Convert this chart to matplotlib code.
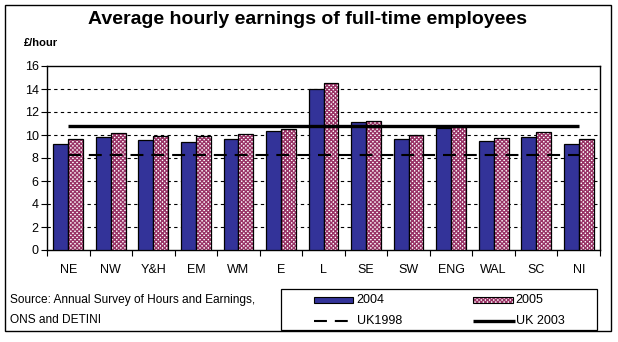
import matplotlib
matplotlib.use("Agg")
import matplotlib.pyplot as plt
from matplotlib.patches import Rectangle
from matplotlib.lines import Line2D
import numpy as np

plt.rcParams['font.family'] = ['Liberation Sans', 'DejaVu Sans']

regions = ["NE", "NW", "Y&H", "EM", "WM", "E", "L", "SE", "SW", "ENG", "WAL", "SC", "NI"]
earn_2004 = [9.2, 9.83, 9.55, 9.4, 9.65, 10.35, 13.97, 11.1, 9.62, 10.58, 9.48, 9.83, 9.2]
earn_2005 = [9.63, 10.17, 9.92, 9.92, 10.1, 10.5, 14.5, 11.2, 9.97, 10.75, 9.72, 10.26, 9.63]
uk_1998 = 8.3
uk_2003 = 10.78
y_ticks = [0, 2, 4, 6, 8, 10, 12, 14, 16]

W, H = 618, 342
fig = plt.figure(figsize=(W / 100, H / 100), dpi=100)

def px(x, y):
    return x / W, 1 - y / H

# outer frame
fig.patches.append(Rectangle(px(5, 331), 606 / W, 326 / H, transform=fig.transFigure,
                             fill=False, edgecolor='black', linewidth=1.0))

ax = fig.add_axes([47 / W, (H - 250) / H, 553 / W, 184 / H])
n = len(regions)
x = np.arange(n)
bw = 0.35
navy = '#333399'
plum = '#993366'

ax.bar(x - bw / 2, earn_2004, width=bw, color=navy, edgecolor='black', linewidth=0.9, zorder=3)
# patterned 2005 bars: hatch layer first, outline on top
ax.bar(x + bw / 2, earn_2005, width=bw, color='white', edgecolor=plum, hatch='xxxxxxxx',
       linewidth=0, zorder=3)
ax.bar(x + bw / 2, earn_2005, width=bw, fill=False, edgecolor='black', linewidth=0.9, zorder=4)

ax.plot([x[0], x[-1]], [uk_2003, uk_2003], color='black', linewidth=2.4, zorder=5,
        solid_capstyle='butt')
ax.plot([x[0], x[-1]], [uk_1998, uk_1998], color='black', linewidth=1.5, zorder=5,
        dashes=(6.2, 3.8), dash_capstyle='butt')

ax.set_xlim(-0.5, n - 0.5)
ax.set_ylim(0, 16)
ax.set_yticks(y_ticks)
ax.set_yticklabels([str(v) for v in y_ticks], fontsize=9)
for v in y_ticks[1:-1]:
    ax.axhline(v, color='black', linewidth=0.8, linestyle=(0, (3, 3)), zorder=1)

ax.set_xticks(np.arange(n + 1) - 0.5)
ax.set_xticklabels([])
ax.set_xticks(x, minor=True)
ax.set_xticklabels(regions, minor=True, fontsize=9)
ax.tick_params(axis='x', which='minor', length=0, pad=10)
ax.tick_params(axis='x', which='major', length=4, width=0.8, direction='out')
ax.tick_params(axis='y', length=4, width=0.8, direction='out', pad=2)
for s in ax.spines.values():
    s.set_linewidth(1.0)

fig.text(*px(308, 20), "Average hourly earnings of full-time employees", fontsize=14,
         fontweight='bold', ha='center', va='center')
fig.text(*px(24, 43), "£/hour", fontsize=8, fontweight='bold', ha='left', va='center')

fig.text(*px(10, 300), "Source: Annual Survey of Hours and Earnings,", fontsize=8.6,
         ha='left', va='center')
fig.text(*px(10, 320), "ONS and DETINI", fontsize=8.6, ha='left', va='center')

# legend box
fig.patches.append(Rectangle(px(281, 330), 316 / W, 41 / H, transform=fig.transFigure,
                             fill=False, edgecolor='black', linewidth=0.9))
fig.patches.append(Rectangle(px(314, 303), 39 / W, 6 / H, transform=fig.transFigure,
                             facecolor=navy, edgecolor='black', linewidth=0.8))
fig.patches.append(Rectangle(px(473, 303), 40 / W, 6 / H, transform=fig.transFigure,
                             facecolor='white', edgecolor=plum, hatch='xxxxxxxx', linewidth=0))
fig.patches.append(Rectangle(px(473, 303), 40 / W, 6 / H, transform=fig.transFigure,
                             fill=False, edgecolor='black', linewidth=0.8))
fig.text(*px(356, 300), "2004", fontsize=9, ha='left', va='center')
fig.text(*px(515, 300), "2005", fontsize=9, ha='left', va='center')
x0, y0 = px(314, 321)
x1, _ = px(353, 321)
fig.lines.append(Line2D([x0, x1], [y0, y0], transform=fig.transFigure, color='black',
                        linewidth=1.5, dashes=(6.2, 3.8), dash_capstyle='butt'))
x0, y0 = px(473, 321)
x1, _ = px(515, 321)
fig.lines.append(Line2D([x0, x1], [y0, y0], transform=fig.transFigure, color='black',
                        linewidth=2.4, solid_capstyle='butt'))
fig.text(*px(357, 321), "UK1998", fontsize=9, ha='left', va='center')
fig.text(*px(516, 321), "UK 2003", fontsize=9, ha='left', va='center')

fig.savefig("out.png", dpi=100)
